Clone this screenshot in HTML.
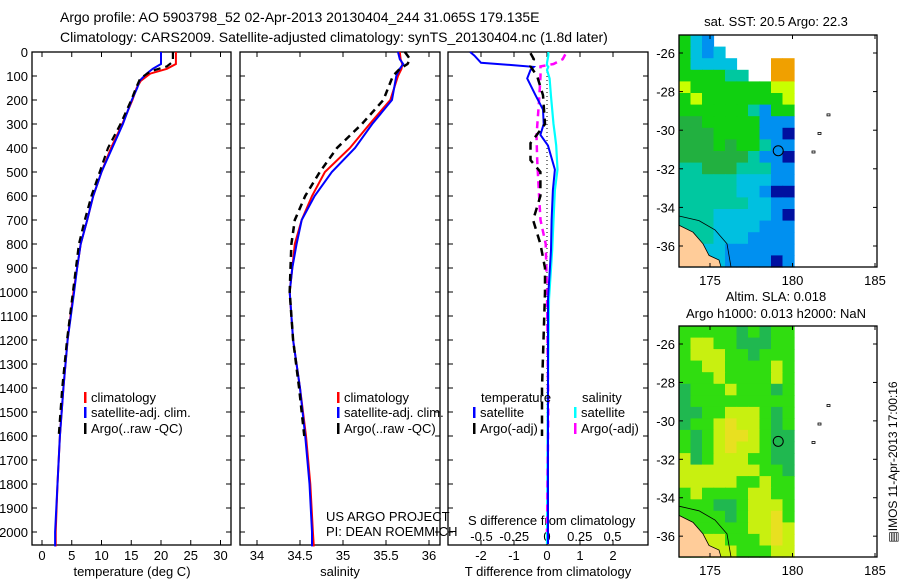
<!DOCTYPE html>
<html><head><meta charset="utf-8"><style>
html,body{margin:0;padding:0;background:#fff;}
svg{display:block;font-family:"Liberation Sans",sans-serif;}
text{font-size:13px;fill:#000;}
</style></head><body>
<svg id="fig" width="900" height="580" viewBox="0 0 900 580" xmlns="http://www.w3.org/2000/svg">
<text x="60" y="22" style="font-size:14px">Argo profile: AO 5903798_52 02-Apr-2013 20130404_244 31.065S 179.135E</text>
<text x="60" y="42" style="font-size:14px">Climatology: CARS2009. Satellite-adjusted climatology: synTS_20130404.nc (1.8d later)</text>
<g id="g"></g>
</svg>
<script>
// ---- data ----
const tDepth = [0,50,70,90,120,150,200,300,400,500,600,700,800,900,1000,1200,1400,1600,1800,2000,2060];
const tClim  = [22.5,22.5,21,18.2,16.6,15.9,15.2,13.5,11.6,10.0,8.6,7.6,6.5,5.9,5.3,4.3,3.6,3.0,2.6,2.3,2.3];
const tSat   = [20.0,20.0,18.6,17.6,16.4,16.0,15.1,13.6,11.8,10.0,8.6,7.6,6.5,5.9,5.4,4.3,3.6,3.0,2.6,2.2,2.2];
const tArgoDepth = [0,40,60,80,110,150,200,300,400,500,600,700,800,900,1000,1200,1400,1600];
const tArgo  = [22.0,22.0,21.0,18.3,16.5,15.8,15.0,13.2,11.1,9.7,8.3,7.2,6.2,5.7,5.2,4.2,3.4,2.8];
const sDepth = [0,30,50,70,100,200,300,400,500,600,700,800,900,1000,1200,1400,1600,1800,2000,2060];
const sClim  = [35.66,35.67,35.69,35.68,35.64,35.55,35.31,35.08,34.79,34.64,34.52,34.44,34.41,34.38,34.42,34.50,34.57,34.62,34.65,34.66];
const sSat   = [35.64,35.66,35.70,35.66,35.62,35.57,35.34,35.14,34.87,34.67,34.52,34.46,34.41,34.38,34.42,34.50,34.56,34.61,34.64,34.64];
const sArgoDepth = [0,30,50,70,100,200,300,400,500,600,700,800,900,1000,1200,1400,1600];
const sArgo  = [35.72,35.78,35.75,35.66,35.58,35.47,35.22,34.93,34.73,34.56,34.44,34.40,34.39,34.38,34.42,34.49,34.55];
const dDepth = [0,15,45,55,62,75,110,180,240,300,345,390,490,575,700,825,1030,1500,2050];
const dTSat  = [-2.33,-2.2,-2.0,-1.0,-0.4,-0.5,-0.6,-0.35,-0.12,-0.1,-0.2,0.03,0.24,0.18,0.14,0.12,0.03,0.03,0.03];
const dTArgoDepth = [5,30,60,100,180,300,380,450,500,600,700,800,900,1000,1400,1600];
const dTArgo = [-0.5,-0.4,-0.5,-0.3,-0.12,-0.06,-0.5,-0.5,-0.2,-0.2,-0.42,-0.2,-0.06,-0.06,-0.15,-0.15];
const dSSat  = [0.01,0.01,0.0,0.0,0.01,0.0,0.02,0.03,0.04,0.05,0.06,0.07,0.08,0.06,0.05,0.04,0.015,0.005,0.0];
const dSArgoDepth = [10,30,50,60,100,200,350,450,600,700,800,1000,1500,2000];
const dSArgo = [0.14,0.12,0.05,-0.05,-0.05,-0.06,-0.08,-0.075,-0.06,-0.05,-0.01,0.0,0.01,0.0];
const depthTicks = [0,100,200,300,400,500,600,700,800,900,1000,1100,1200,1300,1400,1500,1600,1700,1800,1900,2000];
const tTicks = [0,5,10,15,20,25,30];
const sTicks = [34,34.5,35,35.5,36];
const dTTicks = [-2,-1,0,1,2];
const dSTicks = [-0.5,-0.25,0,0.25,0.5];
const dSTickLabels = ["-0.5","-0.25","0","0.25","0.5"];
const lonTicks = [175,180,185];
const latTicks = [-26,-28,-30,-32,-34,-36];
const sstGrid = [
"gcbwwwwwww","gcbcwwwwww","gccccwwwoo","ggggttwwoo","ygggggggyy","gygggggggy",
"ggggggtbgg","GGgggggbbb","GGGggggbbn","GGGgGggtbb","GGGGGGtbbn","ttGGGtttbb",
"tttttcccbb","tttttccbnn","ttttttccbb","tttcccccbn","tttccccbbb","tttcccbbbb",
"tcccbbbbbb","ccccbbbbnb"];
const slaGrid = [
"gggggdgdgg","gyyggdddgg","gyyyggdggg","ggyyggggyg","gggyggggyg","dgggygggdg",
"dggggggggg","ddggyyygdg","dggyYyygdg","gdgyYYygdd","gdgyYyygdd","ydgyyyggdd",
"yyyyyyyggd","yyyyyggygg","gyggggyygg","gggddgyyyg","ggggdgyyYg","ggggggyyYy",
"ggyygggyYy","ggyyygggyy"];
const argoLon = 179.135, argoLat = -31.065;

// ---- helpers ----
const NS="http://www.w3.org/2000/svg";
const G=document.getElementById('g');
function mk(tag,attrs,parent){const e=document.createElementNS(NS,tag);for(const k in attrs)e.setAttribute(k,attrs[k]);(parent||G).appendChild(e);return e;}
const top0=52, bot=545;
const yD = d => top0 + d*0.24;
const xT = v => 42 + v*5.95;
const xS = v => 257 + (v-34)*86;
const xDT = v => 547 + v*33;
const xDS = v => 547 + v*131;

function panel(x0,x1,name){
  const r=mk('rect',{x:x0,y:top0,width:x1-x0,height:bot-top0,fill:'none',stroke:'#000','stroke-width':1.3});
  
  
}
function line(xs,ds,fx,color,dash,w,name){
  const pts=xs.map((v,i)=>fx(v).toFixed(1)+','+yD(ds[i]).toFixed(1)).join(' ');
  const p=mk('polyline',{points:pts,fill:'none',stroke:color,'stroke-width':w||2,'stroke-dasharray':dash||'none'});
  
  
}
function txt(x,y,s,anchor,name,size){
  const t=mk('text',{x:x,y:y,'text-anchor':anchor||'start'});
  if(size)t.setAttribute('style','font-size:'+size+'px');
  t.textContent=s;
  
  
  return t;
}
function xticks(vals,fx,labels,ylab,name,both){
  vals.forEach((v,i)=>{
    const x=fx(v);
    mk('line',{x1:x,x2:x,y1:bot,y2:bot-5,stroke:'#000'});
    if(both)mk('line',{x1:x,x2:x,y1:top0,y2:top0+5,stroke:'#000'});
    if(ylab)txt(x,ylab,labels?labels[i]:String(v),'middle',name);
  });
}

// ---- panels ----
panel(32,231,'temperature-panel');
panel(240,440,'salinity-panel');
panel(448,648,'difference-panel');
depthTicks.forEach(d=>{
  const y=yD(d);
  [[32,1],[231,-1],[240,1],[440,-1],[448,1],[648,-1]].forEach(a=>mk('line',{x1:a[0],x2:a[0]+5*a[1],y1:y,y2:y,stroke:'#000'}));
  txt(28,y+5,String(d),'end','depth-tick-label');
});
xticks(tTicks,xT,null,560,'temperature-tick-label',true);
xticks(sTicks,xS,null,560,'salinity-tick-label',true);
xticks(dTTicks,xDT,null,560,'t-diff-tick-label',true);
dSTicks.forEach((v,i)=>txt(xDS(v),541,dSTickLabels[i],'middle','s-diff-tick-label'));
txt(132,576,'temperature (deg C)','middle','temperature-axis-title');
txt(340,576,'salinity','middle','salinity-axis-title');
txt(548,576,'T difference from climatology','middle','t-diff-axis-title');
txt(468,525,'S difference from climatology','start','s-diff-axis-title');
txt(326,521,'US ARGO PROJECT','start','project-label');
txt(326,536,'PI: DEAN ROEMMICH','start','pi-label');

// zero dotted line
const zl=mk('line',{x1:547,x2:547,y1:yD(50),y2:bot,stroke:'#000','stroke-dasharray':'1,3'});



// temperature series
line(tClim,tDepth,xT,'#ff0000',null,2,'temp-climatology-line');
line(tSat,tDepth,xT,'#0000ff',null,2,'temp-satellite-line');
line(tArgo,tArgoDepth,xT,'#000',"7,5",2.2,'temp-argo-line');
// salinity series
line(sClim,sDepth,xS,'#ff0000',null,2,'sal-climatology-line');
line(sSat,sDepth,xS,'#0000ff',null,2,'sal-satellite-line');
line(sArgo,sArgoDepth,xS,'#000',"7,5",2.5,'sal-argo-line');
// difference series
line(dSSat,dDepth,xDS,'#00ffff',null,2.2,'sdiff-satellite-line');
line(dSArgo,dSArgoDepth,xDS,'#ff00ff',"7,5",2.5,'sdiff-argo-line');
line(dTSat,dDepth,xDT,'#0000ff',null,2,'tdiff-satellite-line');
line(dTArgo,dTArgoDepth,xDT,'#000',"8,6",2.5,'tdiff-argo-line');

// legends
function leg(x,y,color,label,name){
  const m=mk('rect',{x:x,y:y-9,width:2.5,height:11,fill:color});
  
  
  txt(x+7,y+1,label,'start',name);
}
leg(84,401,'#ff0000','climatology','legend-temp-climatology');
leg(84,416,'#0000ff','satellite-adj. clim.','legend-temp-satellite');
leg(84,432,'#000','Argo(..raw -QC)','legend-temp-argo');
leg(337,401,'#ff0000','climatology','legend-sal-climatology');
leg(337,416,'#0000ff','satellite-adj. clim.','legend-sal-satellite');
leg(337,432,'#000','Argo(..raw -QC)','legend-sal-argo');
txt(481,402,'temperature','start','legend-temperature-header');
txt(582,402,'salinity','start','legend-salinity-header');
leg(473,416,'#0000ff','satellite','legend-tdiff-satellite');
leg(473,432,'#000','Argo(-adj)','legend-tdiff-argo');
leg(574,416,'#00ffff','satellite','legend-sdiff-satellite');
leg(574,432,'#ff00ff','Argo(-adj)','legend-sdiff-argo');

// ---- maps ----
const sstCol={g:'#10d010',G:'#22b040',t:'#00c8a0',c:'#00c0e0',b:'#0090f0',n:'#0010a0',y:'#c8ff00',o:'#f0a000',w:'#ffffff'};
const slaCol={g:'#30dd10',d:'#20b850',y:'#c8f010',Y:'#e8e020'};
function map(ytop,ybot,grid,cols,name){
  const xl=679,xr=877,dataR=794;
  const lon=v=>710+(v-175)*16.5;
  const lat=v=>ytop+18+(-26-v)*19.3*(ybot-ytop)/232;
  const rows=grid.length, nc=grid[0].length;
  const cw=(dataR-xl)/nc, ch=(ybot-ytop)/rows;
  grid.forEach((row,r)=>{
    for(let c=0;c<nc;c++){
      const ch_=row[c]; if(ch_==='w')continue;
      const cell=mk('rect',{x:(xl+c*cw).toFixed(1),y:(ytop+r*ch).toFixed(1),width:(cw+0.6).toFixed(1),height:(ch+0.6).toFixed(1),fill:cols[ch_]});
      
      
    }
  });
  // land (north island NZ)
  const h=ybot-ytop;
  const land=mk('polygon',{points:`${xl},${ytop+h*0.82} ${xl+14},${ytop+h*0.85} ${xl+24},${ytop+h*0.9} ${xl+30},${ytop+h*0.95} ${xl+40},${ytop+h*0.97} ${xl+42},${ybot} ${xl},${ybot}`,fill:'#ffcc99',stroke:'#000','stroke-width':0.8});
  
  
  mk('polyline',{points:`${xl},${ytop+h*0.78} ${xl+20},${ytop+h*0.8} ${xl+36},${ytop+h*0.84} ${xl+48},${ytop+h*0.9} ${xl+52},${ybot}`,fill:'none',stroke:'#000','stroke-width':0.8});
  // islands
  [[827,0.34],[818,0.42],[812,0.5]].forEach(p=>mk('rect',{x:p[0],y:ytop+h*p[1],width:3,height:2,fill:'none',stroke:'#000','stroke-width':0.8}));
  const fr=mk('rect',{x:xl,y:ytop,width:xr-xl,height:ybot-ytop,fill:'none',stroke:'#000','stroke-width':1.3});
  
  
  lonTicks.forEach(v=>{const x=lon(v);mk('line',{x1:x,x2:x,y1:ybot,y2:ybot-4,stroke:'#000'});mk('line',{x1:x,x2:x,y1:ytop,y2:ytop+4,stroke:'#000'});txt(x,ybot+18,String(v),'middle',name+'-lon-label');});
  latTicks.forEach(v=>{const y=lat(v);mk('line',{x1:xl,x2:xl+4,y1:y,y2:y,stroke:'#000'});mk('line',{x1:xr,x2:xr-4,y1:y,y2:y,stroke:'#000'});txt(675,y+5,String(v),'end',name+'-lat-label');});
  const c=mk('circle',{cx:lon(argoLon),cy:lat(argoLat),r:5,fill:'none',stroke:'#000','stroke-width':1});
  
  
}
map(35,267,sstGrid,sstCol,'sst-map');
map(326,557,slaGrid,slaCol,'sla-map');
txt(776,26,'sat. SST: 20.5 Argo: 22.3','middle','sst-map-title');
txt(776,301,'Altim. SLA: 0.018','middle','sla-map-title-1');
txt(776,318,'Argo h1000: 0.013 h2000: NaN','middle','sla-map-title-2');
const im=txt(0,0,'\u25A4IMOS 11-Apr-2013 17:00:16','middle','imos-timestamp',12);
im.setAttribute('transform','translate(897,462) rotate(-90)');
</script>
</body></html>
